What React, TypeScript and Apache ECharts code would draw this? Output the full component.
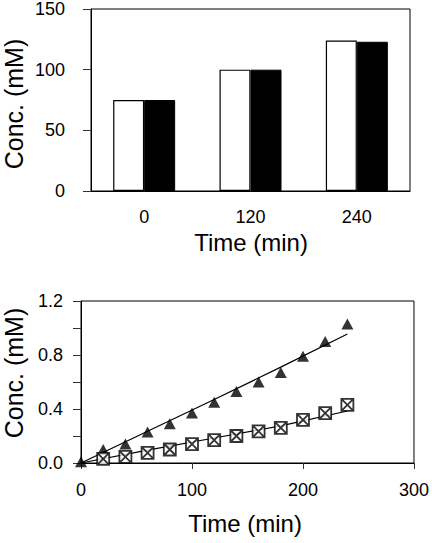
import React, { useEffect, useRef } from "react";
import * as echarts from "echarts";

const barCategories = ["0", "120", "240"];
const barWhite = [75, 100, 124];
const barBlack = [75, 100, 123];

const times = [0, 20, 40, 60, 80, 100, 120, 140, 160, 180, 200, 220, 240];
const triangleValues = [0.01, 0.1, 0.14, 0.23, 0.29, 0.37, 0.45, 0.53, 0.6, 0.67, 0.79, 0.9, 1.03];
const squareTimes = [20, 40, 60, 80, 100, 120, 140, 160, 180, 200, 220, 240];
const squareValues = [0.03, 0.045, 0.075, 0.1, 0.14, 0.17, 0.2, 0.235, 0.26, 0.32, 0.37, 0.43];
const fitTimes = [0, 60, 120, 180, 240];
const triangleFit = [0, 0.235, 0.47, 0.71, 0.955];
const squareFit = [0, 0.095, 0.185, 0.275, 0.385];

const FONT = "Liberation Sans, Arial, sans-serif";
const SQUARE_X = "path://M0,0 L10,0 L10,10 L0,10 Z M0,0 L10,10 M10,0 L0,10";

export default function App() {
  const ref = useRef<HTMLDivElement>(null);
  useEffect(() => {
    if (!ref.current) return;
    const chart = echarts.init(ref.current, undefined, { renderer: "svg" });
    const axisLine = { show: true, lineStyle: { color: "#000", width: 1 } };
    const tick = { show: true, inside: false, length: 8, lineStyle: { color: "#333", width: 1 } };
    const label = { color: "#000", fontSize: 18, fontFamily: FONT };
    chart.setOption({
      animation: false,
      backgroundColor: "#fff",
      grid: [
        { left: 91, top: 6, width: 319, height: 185, show: true, borderColor: "#000", borderWidth: 1, containLabel: false },
        { left: 81, top: 301, width: 334, height: 162, show: true, borderColor: "#000", borderWidth: 1, containLabel: false },
      ],
      xAxis: [
        {
          type: "category",
          gridIndex: 0,
          data: barCategories,
          axisLine,
          axisTick: { show: false },
          axisLabel: { ...label, margin: 17 },
          splitLine: { show: false },
        },
        {
          type: "value",
          gridIndex: 1,
          min: 0,
          max: 300,
          interval: 100,
          axisLine: { ...axisLine, onZero: false },
          axisTick: { ...tick, length: 6 },
          axisLabel: { ...label, margin: 18 },
          splitLine: { show: false },
        },
      ],
      yAxis: [
        {
          type: "value",
          gridIndex: 0,
          min: 0,
          max: 150,
          interval: 50,
          axisLine,
          axisTick: tick,
          axisLabel: { ...label, margin: 26, padding: [6, 0, 0, 0] },
          splitLine: { show: false },
        },
        {
          type: "value",
          gridIndex: 1,
          min: 0,
          max: 1.2,
          interval: 0.2,
          axisLine,
          axisTick: tick,
          axisLabel: {
            ...label,
            margin: 18,
            padding: [4, 0, 0, 0],
            formatter: (v: number) => (Math.round(v * 10) % 4 === 0 ? v.toFixed(1) : ""),
          },
          splitLine: { show: false },
        },
      ],
      series: [
        {
          type: "bar",
          xAxisIndex: 0,
          yAxisIndex: 0,
          data: barWhite,
          barWidth: 31,
          barGap: "0%",
          itemStyle: { color: "#fff", borderColor: "#000", borderWidth: 1.2 },
        },
        {
          type: "bar",
          xAxisIndex: 0,
          yAxisIndex: 0,
          data: barBlack,
          barWidth: 31,
          barGap: "0%",
          itemStyle: { color: "#000", borderColor: "#000", borderWidth: 1 },
        },
        {
          type: "line",
          xAxisIndex: 1,
          yAxisIndex: 1,
          data: fitTimes.map((t, i) => [t, triangleFit[i]]),
          showSymbol: false,
          symbol: "none",
          lineStyle: { color: "#000", width: 1.2 },
          z: 2,
        },
        {
          type: "line",
          xAxisIndex: 1,
          yAxisIndex: 1,
          data: fitTimes.map((t, i) => [t, squareFit[i]]),
          showSymbol: false,
          symbol: "none",
          lineStyle: { color: "#000", width: 1.2 },
          z: 2,
        },
        {
          type: "scatter",
          xAxisIndex: 1,
          yAxisIndex: 1,
          data: times.map((t, i) => [t, triangleValues[i]]),
          symbol: "triangle",
          symbolSize: [12, 11],
          itemStyle: { color: "#000" },
          z: 3,
        },
        {
          type: "scatter",
          xAxisIndex: 1,
          yAxisIndex: 1,
          data: squareTimes.map((t, i) => [t, squareValues[i]]),
          symbol: SQUARE_X,
          symbolSize: 12,
          itemStyle: { color: "#fff", borderColor: "#000", borderWidth: 1.8 },
          z: 4,
        },
      ],
      graphic: [
        {
          type: "text",
          x: 251,
          y: 242,
          style: { text: "Time (min)", fontSize: 24, fontFamily: FONT, fill: "#000", textAlign: "center", textVerticalAlign: "middle" },
        },
        {
          type: "text",
          x: 14,
          y: 104,
          rotation: Math.PI / 2,
          style: { text: "Conc. (mM)", fontSize: 25, fontFamily: FONT, fill: "#000", textAlign: "center", textVerticalAlign: "middle" },
        },
        {
          type: "text",
          x: 245,
          y: 523,
          style: { text: "Time (min)", fontSize: 24, fontFamily: FONT, fill: "#000", textAlign: "center", textVerticalAlign: "middle" },
        },
        {
          type: "text",
          x: 14,
          y: 373,
          rotation: Math.PI / 2,
          style: { text: "Conc. (mM)", fontSize: 25, fontFamily: FONT, fill: "#000", textAlign: "center", textVerticalAlign: "middle" },
        },
      ],
    });
    return () => chart.dispose();
  }, []);
  return (
    <div
      ref={ref}
      style={{ position: "fixed", left: 0, top: 0, width: 432, height: 543, background: "#fff" }}
    />
  );
}
